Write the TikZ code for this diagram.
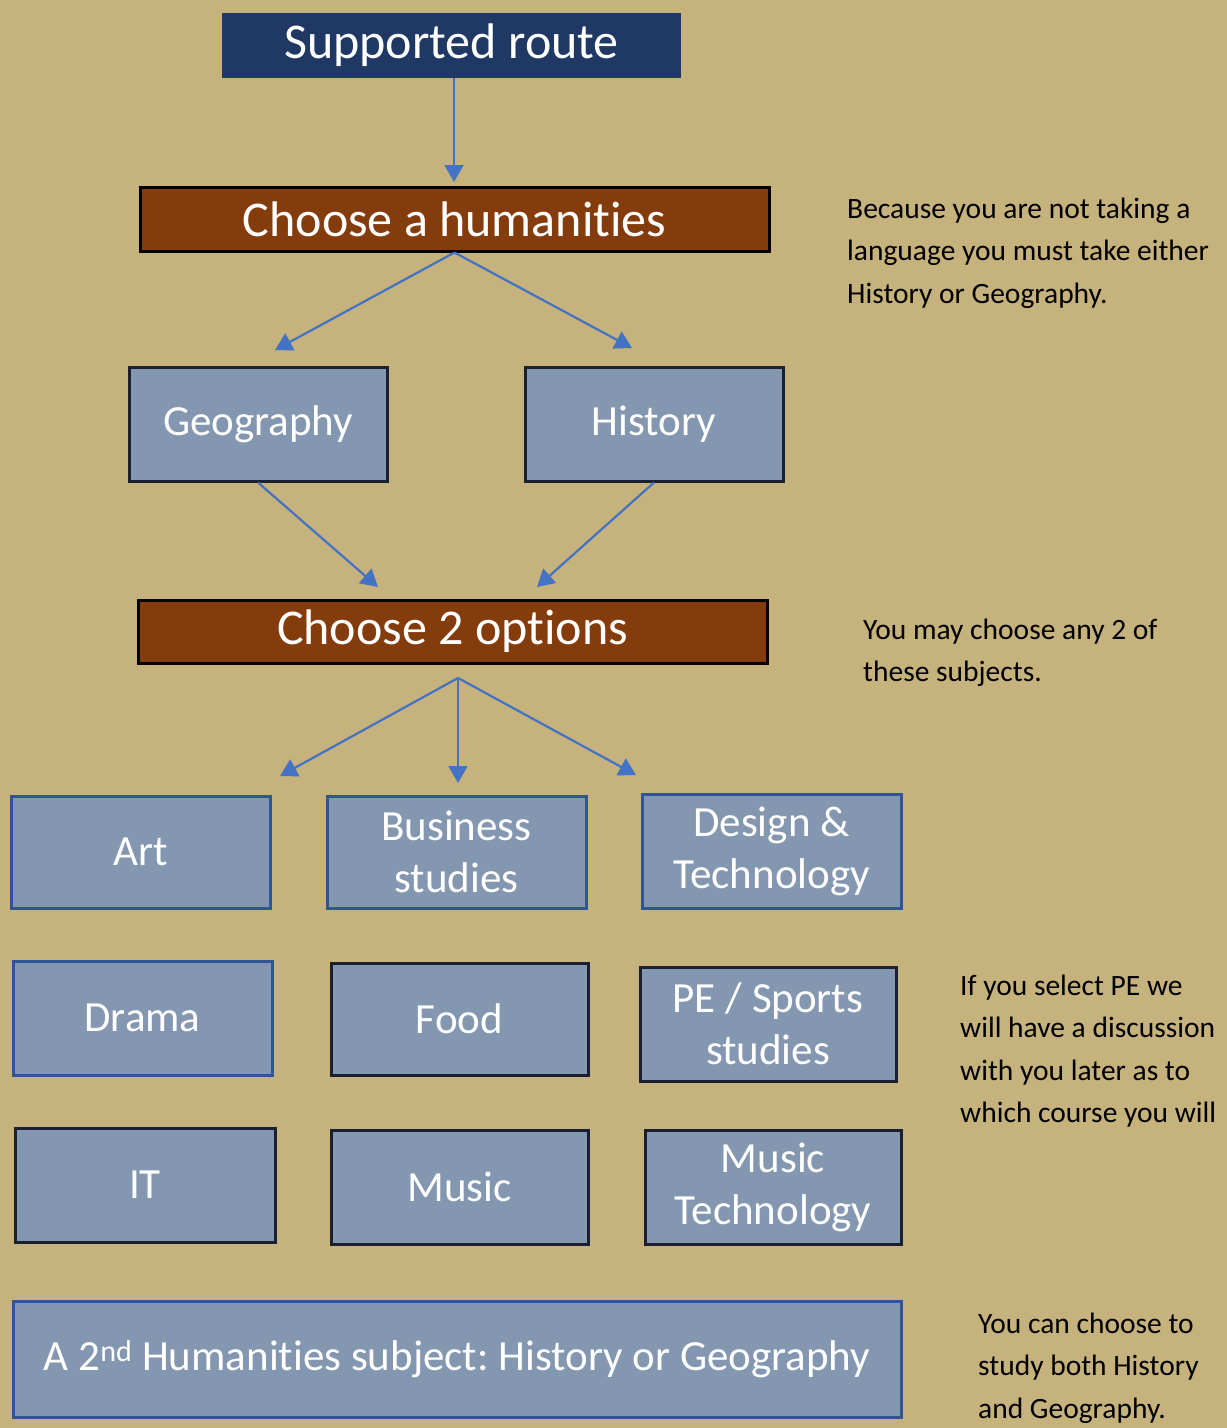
\documentclass[tikz,border=0pt]{standalone}
\usepackage{fontspec}
\setmainfont{Carlito}[Ligatures=NoCommon]
\frenchspacing
\usetikzlibrary{arrows.meta}
\definecolor{bg}{HTML}{C6B27C}
\definecolor{navy}{HTML}{1F3864}
\definecolor{rust}{HTML}{843C0C}
\definecolor{slate}{HTML}{8497B0}
\definecolor{edgeblue}{HTML}{2F5597}
\definecolor{darkedge}{HTML}{1A2030}
\definecolor{arrowblue}{HTML}{4472C4}
\begin{document}
\begin{tikzpicture}[x=1pt,y=-1pt,
  header/.style={draw=black,line width=3pt,fill=rust,text=white,inner sep=0pt,
    font=\fontsize{50}{54}\selectfont},
  topbox/.style={fill=navy,text=white,inner sep=0pt,minimum width=459,minimum height=65,
    font=\fontsize{50}{54}\selectfont},
  humbox/.style={draw=darkedge,line width=3pt,fill=slate,text=white,inner sep=0pt,
    minimum width=258,minimum height=114,font=\fontsize{43}{52}\selectfont},
  subjbox/.style={draw=edgeblue,line width=3pt,fill=slate,text=white,inner sep=0pt,
    align=center,font=\fontsize{43}{52}\selectfont},
  note/.style={anchor=base west,align=left,inner sep=0pt,text=black,
    font=\fontsize{29.5}{42.5}\selectfont},
  link/.style={draw=arrowblue,line width=2.2pt,-{Triangle[length=17pt,width=19pt]}}]
\fill[bg] (0,0) rectangle (1227,1428);
\useasboundingbox (0,0) rectangle (1227,1428);

\node[topbox] (sup) at (451.5,45.5) {Supported route};
\node[header,minimum width=629,minimum height=64] (hum) at (454.5,219) {Choose a humanities};
\node[humbox] (geo) at (258,424) {Geography};
\node[humbox] (his) at (654,424) {History};
\node[header,minimum width=629,minimum height=63] (opt) at (452.5,631.5) {Choose 2 options};

\node[subjbox,minimum width=259,minimum height=112] (art) at (140.5,852) {Art};
\node[subjbox,minimum width=259,minimum height=112] (bus) at (456.5,852) {Business\\studies};
\node[subjbox,minimum width=259,minimum height=114] (dt) at (771.5,851) {Design \&\\Technology};
\node[subjbox,minimum width=259,minimum height=114] (dra) at (142.5,1018) {Drama};
\node[subjbox,minimum width=257,minimum height=112,draw=darkedge] (food) at (459.5,1019) {Food};
\node[subjbox,minimum width=256,minimum height=114,draw=darkedge] (pe) at (768,1024) {PE / Sports\\studies};
\node[subjbox,minimum width=260,minimum height=114,draw=darkedge] (it) at (145,1185) {IT};
\node[subjbox,minimum width=257,minimum height=114,draw=darkedge] (mus) at (459.5,1187) {Music};
\node[subjbox,minimum width=256,minimum height=114,draw=darkedge] (mt) at (773,1187) {Music\\Technology};
\node[subjbox,minimum width=888,minimum height=116] (sec) at (457,1359)
  {A 2\textsuperscript{nd} Humanities subject: History or Geography};

\node[note] (n1) at (847,303) {Because you are not taking a\\language you must take either\\History or Geography.};
\node[note] (n2) at (863,681.5) {You may choose any 2 of\\these subjects.};
\node[note] (n3) at (960,1122.5) {If you select PE we\\will have a discussion\\with you later as to\\which course you will};
\node[note] (n4) at (978,1418) {You can choose to\\study both History\\and Geography.};

\coordinate (t1) at (454,182);
\coordinate (t2) at (275,350);
\coordinate (t3) at (632,348);
\coordinate (t4) at (378,587);
\coordinate (t5) at (537,587);
\coordinate (o) at (458,678);
\coordinate (t6) at (280,776);
\coordinate (t7) at (458,783);
\coordinate (t8) at (636,775);

\draw[link] (sup.south -| t1) -- (t1);
\draw[link] (hum.south) -- (t2);
\draw[link] (hum.south) -- (t3);
\draw[link] (geo.south) -- (t4);
\draw[link] (his.south) -- (t5);
\draw[link] (o) -- (t6);
\draw[link] (o) -- (t7);
\draw[link] (o) -- (t8);
\end{tikzpicture}
\end{document}
